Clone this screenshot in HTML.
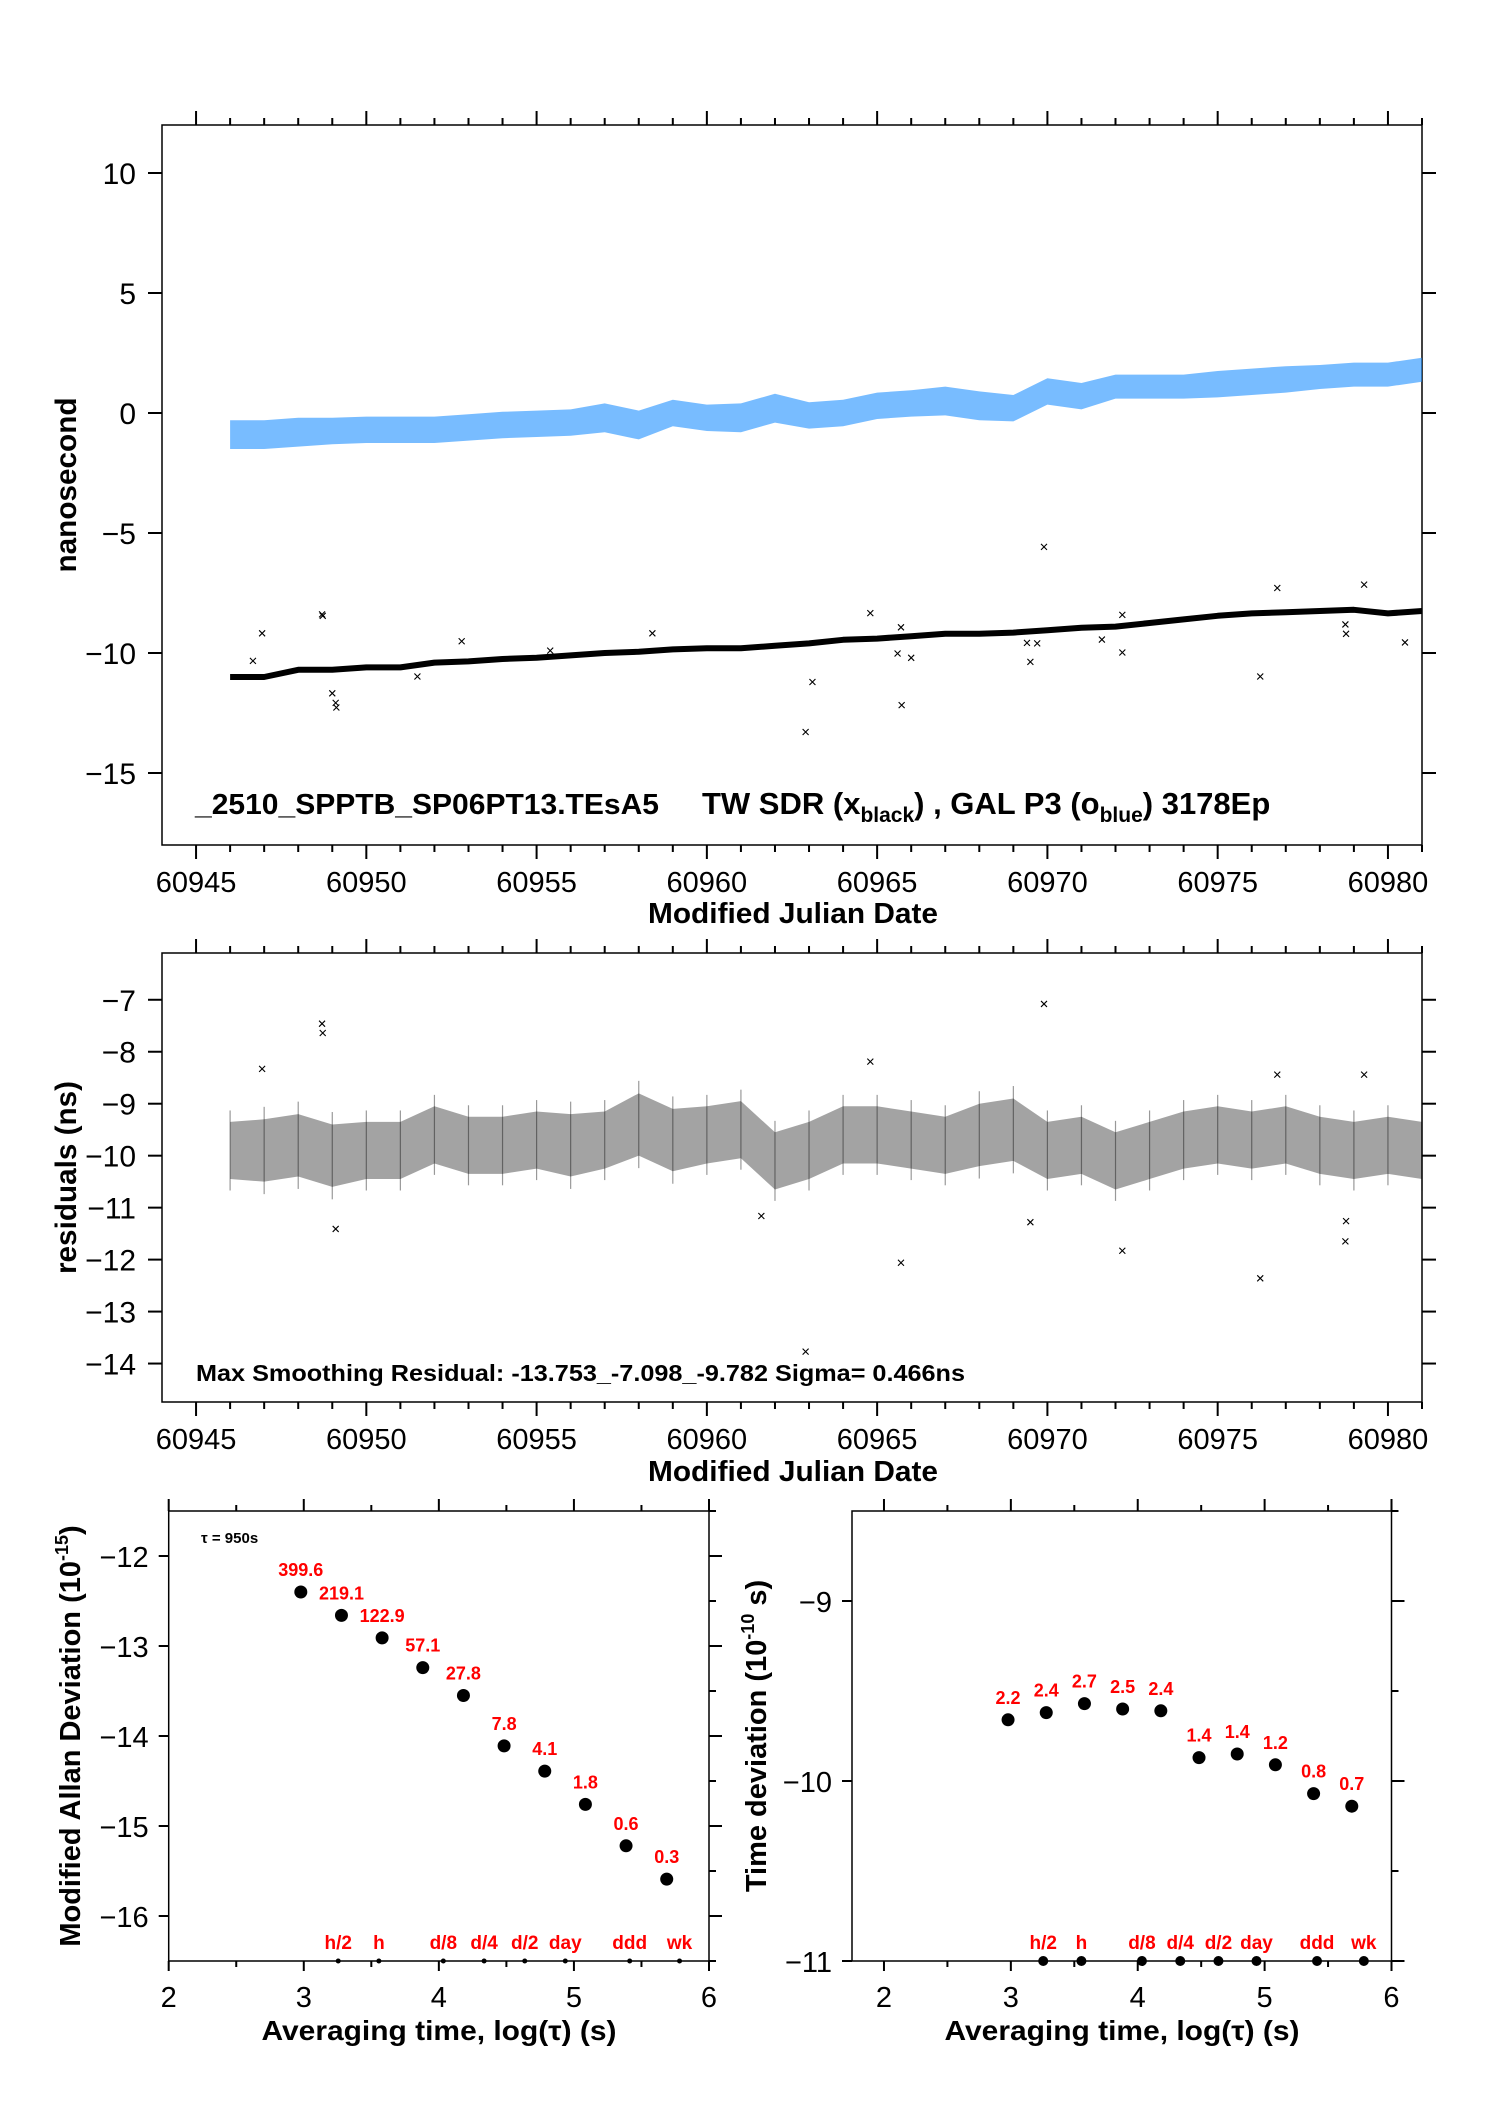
<!DOCTYPE html>
<html><head><meta charset="utf-8"><style>
html,body{margin:0;padding:0;background:#fff}
svg{display:block;font-family:"Liberation Sans",sans-serif}
</style></head><body>
<svg id="fig" width="1488" height="2105" viewBox="0 0 1488 2105" xmlns="http://www.w3.org/2000/svg">
<rect width="1488" height="2105" fill="#fff"/>
</svg>
<script>
// ---------- data ----------
const days = [60946,60947,60948,60949,60950,60951,60952,60953,60954,60955,60956,60957,60958,60959,60960,60961,60962,60963,60964,60965,60966,60967,60968,60969,60970,60971,60972,60973,60974,60975,60976,60977,60978,60979,60980,60981];
const blueCenter = [-0.9,-0.9,-0.8,-0.75,-0.7,-0.7,-0.7,-0.6,-0.5,-0.45,-0.4,-0.2,-0.5,0.0,-0.2,-0.2,0.2,-0.1,0.0,0.3,0.4,0.5,0.3,0.2,0.9,0.7,1.1,1.1,1.1,1.2,1.3,1.4,1.5,1.6,1.6,1.8];
const blueSpread = [0.6,0.6,0.6,0.55,0.55,0.55,0.55,0.55,0.55,0.55,0.55,0.6,0.6,0.55,0.55,0.6,0.6,0.55,0.55,0.55,0.55,0.6,0.6,0.55,0.55,0.55,0.5,0.5,0.5,0.55,0.55,0.55,0.5,0.5,0.5,0.5];
const blackCenter = [-11.0,-11.0,-10.7,-10.7,-10.6,-10.6,-10.4,-10.35,-10.25,-10.2,-10.1,-10.0,-9.95,-9.85,-9.8,-9.8,-9.7,-9.6,-9.45,-9.4,-9.3,-9.2,-9.2,-9.15,-9.05,-8.95,-8.9,-8.75,-8.6,-8.45,-8.35,-8.3,-8.25,-8.2,-8.35,-8.25];
const outMjd = [60946.67,60946.94,60948.7,60948.72,60949.0,60949.1,60949.12,60952.8,60958.4,60962.9,60963.1,60964.8,60965.7,60965.6,60966.0,60965.72,60969.9,60969.5,60969.4,60969.7,60972.2,60972.2,60971.6,60976.25,60976.75,60979.3,60978.75,60978.77,60980.5,60951.5,60955.4];
const outVal = [-10.33,-9.18,-8.39,-8.45,-11.68,-12.08,-12.27,-9.51,-9.18,-13.29,-11.21,-8.34,-8.93,-10.02,-10.2,-12.17,-5.58,-10.37,-9.58,-9.6,-8.41,-9.98,-9.44,-10.98,-7.29,-7.15,-8.81,-9.2,-9.56,-10.98,-9.9];
const resCenter = [-9.9,-9.9,-9.8,-10.0,-9.9,-9.9,-9.6,-9.8,-9.8,-9.7,-9.8,-9.7,-9.4,-9.7,-9.6,-9.5,-10.1,-9.9,-9.6,-9.6,-9.7,-9.8,-9.6,-9.5,-9.9,-9.8,-10.1,-9.9,-9.7,-9.6,-9.7,-9.6,-9.8,-9.9,-9.8,-9.9];
const resSpread = [0.55,0.6,0.6,0.6,0.55,0.55,0.55,0.55,0.55,0.55,0.6,0.55,0.6,0.6,0.55,0.55,0.55,0.55,0.55,0.55,0.55,0.55,0.6,0.6,0.55,0.55,0.55,0.55,0.55,0.55,0.55,0.55,0.55,0.55,0.55,0.55];
const resOutMjd = [60948.7,60948.72,60946.94,60964.8,60969.9,60976.75,60979.3,60976.25,60972.2,60965.7,60962.9,60978.75,60978.77,60949.1,60969.5,60961.6];
const resOutVal = [-7.46,-7.64,-8.33,-8.19,-7.08,-8.44,-8.44,-12.36,-11.83,-12.06,-13.77,-11.65,-11.26,-11.41,-11.28,-11.16];
const logTau = [2.978,3.279,3.580,3.881,4.182,4.483,4.784,5.085,5.386,5.687];
const madev = [-12.40,-12.66,-12.91,-13.24,-13.55,-14.11,-14.39,-14.76,-15.22,-15.59];
const madevLabels = ["399.6","219.1","122.9","57.1","27.8","7.8","4.1","1.8","0.6","0.3"];
const tdev = [-9.66,-9.62,-9.57,-9.60,-9.61,-9.87,-9.85,-9.91,-10.07,-10.14];
const tdevLabels = ["2.2","2.4","2.7","2.5","2.4","1.4","1.4","1.2","0.8","0.7"];
const markNames = ["h/2","h","d/8","d/4","d/2","day","ddd","wk"];
const markLog = [3.255,3.556,4.033,4.335,4.636,4.936,5.413,5.782];
const mjdTicks = [60945,60950,60955,60960,60965,60970,60975,60980];
const topYTicks = [-15,-10,-5,0,5,10];
const resYTicks = [-14,-13,-12,-11,-10,-9,-8,-7];
const adevYTicks = [-16,-15,-14,-13,-12];
const tdevYTicks = [-11,-10,-9];
const logTicks = [2,3,4,5,6];

const NS = "http://www.w3.org/2000/svg";
const svg = document.getElementById('fig');
function mk(tag, attrs, parent){
  const e = document.createElementNS(NS, tag);
  for (const k in attrs) e.setAttribute(k, attrs[k]);
  (parent||svg).appendChild(e);
  return e;
}
function lin(d0,d1,r0,r1){ return v => r0 + (v-d0)*(r1-r0)/(d1-d0); }
const fmt = v => (v<0 ? '\u2212'+Math.abs(v) : ''+v);

function frame(g,x0,y0,x1,y1){
  const r = mk('rect',{x:x0,y:y0,width:x1-x0,height:y1-y0,fill:'none',stroke:'#000','stroke-width':1.5},g);
  
  
}
function line(g,x1,y1,x2,y2,w){ return mk('line',{x1,y1,x2,y2,stroke:'#000','stroke-width':w||1.5},g); }
function text(g,x,y,s,attrs){
  const t = mk('text',Object.assign({x,y,'font-size':30,fill:'#000'},attrs||{}),g);
  t.textContent = s; return t;
}
function xMark(g,cx,cy,s){
  return mk('path',{d:`M${cx-s},${cy-s}L${cx+s},${cy+s}M${cx-s},${cy+s}L${cx+s},${cy-s}`,stroke:'#000','stroke-width':1.1,fill:'none'},g);
}

// ---------- time-series panels ----------
function timePanel(name, y0, y1, ymin, ymax, yticks, ytitle, ytitleLen, tickBase, titleBase){
  const g = mk('g',{});
  
  
  const X0=162, X1=1422;
  const sx = lin(60944.0,60981.0,X0,X1);
  const sy = lin(ymin,ymax,y1,y0);
  frame(g,X0,y0,X1,y1);
  for (let d=60945; d<=60981; d++){
    const major = d%5===0; const x=sx(d);
    line(g,x,y0,x,y0-(major?14:7),2);
    line(g,x,y1,x,y1+(major?14:7),2);
  }
  mjdTicks.forEach(v=>{
    const t = text(g,sx(v),tickBase,''+v,{'text-anchor':'middle','font-size':29});
    
    
  });
  yticks.forEach(v=>{
    const y=sy(v);
    line(g,X0-14,y,X0,y,2); line(g,X1,y,X1+14,y,2);
    const t = text(g,X0-26,y+11,fmt(v),{'text-anchor':'end'});
    
    
  });
  const xt = text(g,793,titleBase,'Modified Julian Date',{'text-anchor':'middle','font-weight':'bold','font-size':29,textLength:290,lengthAdjust:'spacingAndGlyphs'});
  
  
  const cy=(y0+y1)/2;
  const yt = text(g,0,0,ytitle,{'text-anchor':'middle','font-weight':'bold','font-size':30,textLength:ytitleLen,lengthAdjust:'spacingAndGlyphs',transform:`translate(76,${cy}) rotate(-90)`});
  
  
  return {g,sx,sy};
}

// top panel
const P1 = timePanel('offset-panel',125,845,-18,12,topYTicks,'nanosecond',175,892,923);
{
  const {g,sx,sy} = P1;
  let up=[],dn=[];
  days.forEach((d,i)=>{ up.push(sx(d)+','+sy(blueCenter[i]+blueSpread[i])); dn.unshift(sx(d)+','+sy(blueCenter[i]-blueSpread[i])); });
  const band = mk('polygon',{points:up.concat(dn).join(' '),fill:'#1e90ff','fill-opacity':0.6},g);
  
  
  const pl = mk('polyline',{points:days.map((d,i)=>sx(d)+','+sy(blackCenter[i])).join(' '),fill:'none',stroke:'#000','stroke-width':6,'stroke-linejoin':'round'},g);
  
  
  outMjd.forEach((m,i)=>{
    const p = xMark(g,sx(m),sy(outVal[i]),3);
    
    
  });
  const lg1 = text(g,195,814,'_2510_SPPTB_SP06PT13.TEsA5',{'font-weight':'bold','font-size':29,textLength:464,lengthAdjust:'spacingAndGlyphs'});
  
  
  const lg = text(g,702,814,'',{'font-weight':'bold','font-size':31});
  
  
  lg.innerHTML = 'TW SDR (x<tspan font-size="21" dy="8">black</tspan><tspan dy="-8">) ,  GAL P3 (o</tspan><tspan font-size="21" dy="8">blue</tspan><tspan dy="-8">)  3178Ep</tspan>';
}

// residual panel
const P2 = timePanel('residual-panel',953,1402,-14.74,-6.1,resYTicks,'residuals (ns)',193,1449,1481);
{
  const {g,sx,sy} = P2;
  let up=[],dn=[];
  days.forEach((d,i)=>{ up.push(sx(d)+','+sy(resCenter[i]+resSpread[i])); dn.unshift(sx(d)+','+sy(resCenter[i]-resSpread[i])); });
  const band = mk('polygon',{points:up.concat(dn).join(' '),fill:'#000','fill-opacity':0.36},g);
  
  
  days.forEach((d,i)=>{
    const s = mk('line',{x1:sx(d),y1:sy(resCenter[i]+resSpread[i]*1.4),x2:sx(d),y2:sy(resCenter[i]-resSpread[i]*1.4),stroke:'#000','stroke-width':1.2,'stroke-opacity':0.4},g);
    
    
  });
  resOutMjd.forEach((m,i)=>{
    const p = xMark(g,sx(m),sy(resOutVal[i]),3);
    
    
  });
  const t = text(g,196,1381,'Max Smoothing Residual: -13.753_-7.098_-9.782  Sigma= 0.466ns',{'font-weight':'bold','font-size':23,textLength:769,lengthAdjust:'spacingAndGlyphs'});
  
  
}

// ---------- stability panels ----------
function stabPanel(name,X0,X1,xmin,ymin,ymax,yticks,vals,labels,ytitle,ytx,xtc,dotR){
  const Y0=1511,Y1=1961;
  const g = mk('g',{});
  
  
  const sx = lin(xmin,6,X0,X1), sy = lin(ymin,ymax,Y1,Y0);
  frame(g,X0,Y0,X1,Y1);
  for (let v=2; v<=6; v+=0.5){
    const x=sx(v); const major = v%1===0;
    line(g,x,Y0,x,Y0-(major?12:6),2);
    line(g,x,Y1,x,Y1+(major?10:6),2);
  }
  for (let v=Math.ceil(ymin*2)/2; v<=ymax; v+=0.5){
    const y=sy(v); const major = v%1===0;
    line(g,X1,y,X1+(major?13:7),y,2);
    if (major) line(g,X0-10,y,X0,y,2);
  }
  logTicks.forEach(v=>{
    const t = text(g,sx(v),2007,''+v,{'text-anchor':'middle','font-size':29});
    
    
  });
  yticks.forEach(v=>{
    const t = text(g,X0-20,sy(v)+11,fmt(v),{'text-anchor':'end','font-size':29});
    
    
  });
  const xt = text(g,xtc,2040,'Averaging time, log(\u03c4) (s)',{'text-anchor':'middle','font-weight':'bold','font-size':28,textLength:355,lengthAdjust:'spacingAndGlyphs'});
  
  
  const yt = text(g,0,0,'',{'text-anchor':'middle','font-weight':'bold','font-size':29,transform:`translate(${ytx},1736) rotate(-90)`});
  yt.innerHTML = ytitle;
  
  
  logTau.forEach((lt,i)=>{
    const c = mk('circle',{cx:sx(lt),cy:sy(vals[i]),r:6.5,fill:'#000'},g);
    
    
    const t = text(g,sx(lt),sy(vals[i])-16,labels[i],{'text-anchor':'middle','font-weight':'bold','font-size':18,fill:'#ff0000'});
    
    
  });
  markLog.forEach((m,i)=>{
    const c = mk('circle',{cx:sx(m),cy:Y1,r:dotR,fill:'#000'},g);
    
    
    const t = text(g,sx(m),Y1-12,markNames[i],{'text-anchor':'middle','font-weight':'bold','font-size':19,fill:'#ff0000'});
    
    
  });
  return {g,sx,sy};
}
const P3 = stabPanel('mdev-panel',168.7,709,2,-16.5,-11.5,adevYTicks,madev,madevLabels,'Modified Allan Deviation (10<tspan font-size="18" dy="-12">-15</tspan><tspan dy="12">)</tspan>',80,439,2.5);
{
  const t = text(P3.g,201,1543,'\u03c4 = 950s',{'font-size':15,'font-weight':'bold'});
  
  
}
const P4 = stabPanel('tdev-panel',852,1391.5,1.748,-11,-8.5,tdevYTicks,tdev,tdevLabels,'Time deviation (10<tspan font-size="18" dy="-12">-10</tspan><tspan dy="12"> s)</tspan>',766,1122,5);
</script>
</body></html>
